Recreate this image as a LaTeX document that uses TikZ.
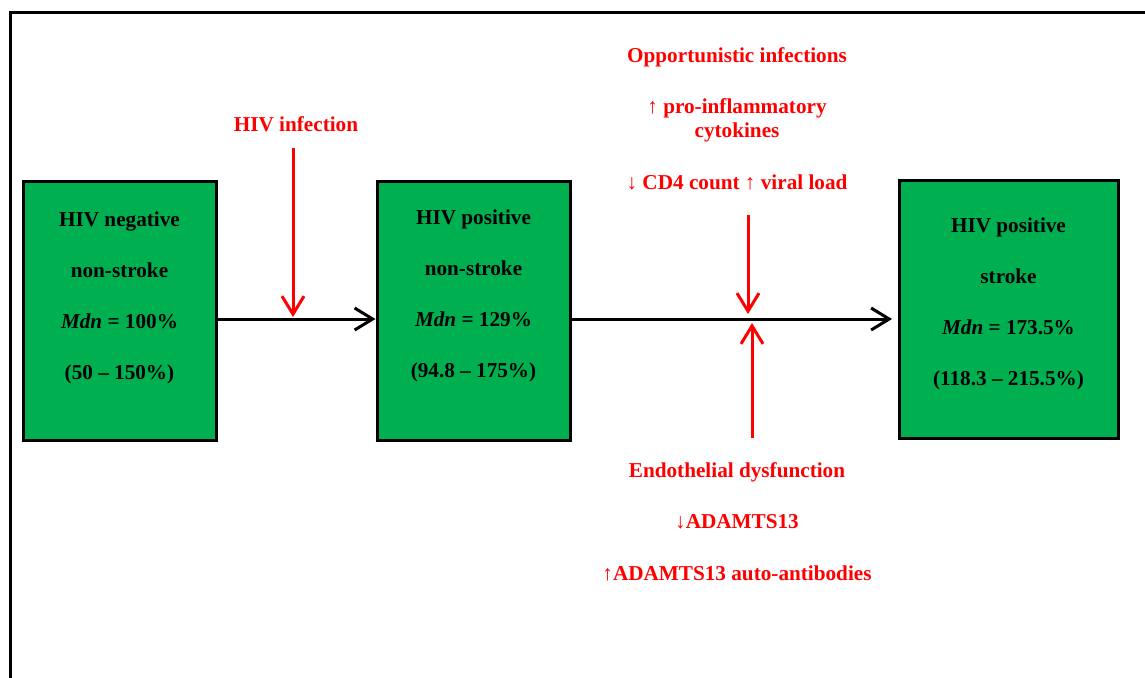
\documentclass[tikz,border=0pt]{standalone}
\usepackage{fontspec}
\setmainfont{Liberation Serif}
\usetikzlibrary{arrows.meta}
\definecolor{boxgreen}{HTML}{00B050}
\definecolor{causered}{HTML}{FF0000}
\begin{document}
\begin{tikzpicture}[x=0.5pt,y=-0.5pt,
  box/.style={draw=black, line width=1.5pt, fill=boxgreen, inner sep=0pt,
    minimum width=96.5pt, minimum height=129.5pt},
  boxtext/.style={align=center, inner sep=0pt, anchor=north,
    font=\fontsize{10.6}{25.5}\selectfont\bfseries},
  redtext/.style={text=causered, align=center, inner sep=0pt,
    font=\fontsize{10.6}{12}\selectfont\bfseries},
  flow/.style={draw=black, line width=1.5pt,
    -{Straight Barb[length=9pt,width=11pt]}},
  cause/.style={draw=causered, line width=1.5pt,
    -{Straight Barb[length=9pt,width=11pt]}},
]
\useasboundingbox (0,0) rectangle (1145,677);

% outer frame (top and left edges)
\draw[line width=1.5pt] (10,680) -- (10,12) -- (1150,12);

% the three groups
\node[box] (neg) at (119.5,310.5) {};
\node[box] (pos) at (473.5,310.5) {};
\node[box, minimum width=109.5pt, minimum height=129pt] (str) at (1008.5,309) {};

\node[boxtext] (negt) at (119.5,211.5) {HIV negative\\non-stroke\\\textit{Mdn} = 100\%\\(50 -- 150\%)};
\node[boxtext] (post) at (473.5,209.5) {HIV positive\\non-stroke\\\textit{Mdn} = 129\%\\(94.8 -- 175\%)};
\node[boxtext] (strt) at (1008.5,217.5) {HIV positive\\stroke\\\textit{Mdn} = 173.5\%\\(118.3 -- 215.5\%)};

% main progression
\coordinate (m1) at (293,319);
\coordinate (end) at (892,319);
\draw[flow] (neg.east |- m1) -- (pos.west |- m1);
\draw[flow] (pos.east |- m1) -- (end);

% factors
\node[redtext, anchor=base] (hiv) at (296,131) {HIV infection};
\node[redtext, anchor=base] (opp) at (737,62) {Opportunistic infections};
\node[redtext, anchor=north] (cyt) at (737,98) {↑ pro-inflammatory\\cytokines};
\node[redtext, anchor=base] (cd4) at (737,189) {↓ CD4 count ↑ viral load};
\node[redtext, anchor=base] (endo) at (737,477) {Endothelial dysfunction};
\node[redtext, anchor=base] (adam) at (737,528) {↓ADAMTS13};
\node[redtext, anchor=base] (auto) at (737,580) {↑ADAMTS13 auto-antibodies};

\coordinate (h0) at (293,148);
\coordinate (h1) at (293,317);
\coordinate (d0) at (748,215);
\coordinate (d1) at (748,314);
\coordinate (u0) at (752,438);
\coordinate (u1) at (752,323);
\draw[cause] (h0) -- (h1);
\draw[cause] (d0) -- (d1);
\draw[cause] (u0) -- (u1);
\end{tikzpicture}
\end{document}
